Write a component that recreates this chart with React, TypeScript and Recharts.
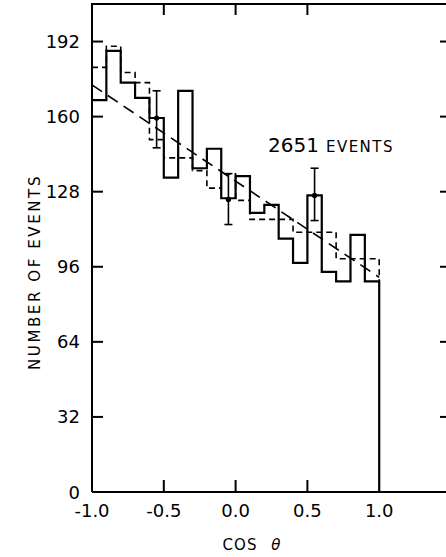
import { ComposedChart, Line, XAxis, YAxis } from "recharts";

// bin starts (width 0.1) from -1.0 to 0.9
const binStarts = [-1.0, -0.9, -0.8, -0.7, -0.6, -0.5, -0.4, -0.3, -0.2, -0.1, 0.0, 0.1, 0.2, 0.3, 0.4, 0.5, 0.6, 0.7, 0.8, 0.9];
const binEnd = 1.0;
// solid histogram (data)
const observed = [167, 188, 174.5, 168, 159.4, 134, 171, 138, 146.3, 125.2, 134.6, 119, 122.4, 108, 97.7, 126.4, 93.8, 89.8, 109.6, 89.8];
// dashed histogram (expected)
const expected = [181, 190, 178.8, 174.5, 150.2, 142.4, 142.4, 137, 129.5, 135.6, 124.3, 116.2, 116.2, 116.2, 110.7, 110.7, 110.7, 99.4, 99.4, 99.4];
// dashed straight line
const fitX = [-1.0, 1.0];
const fitY = [173.5, 91.5];
// points with error bars
const errX = [-0.55, -0.05, 0.55];
const errY = [159.4, 124.7, 126.4];
const errLow = [146.7, 114, 115.7];
const errHigh = [171, 135.7, 138];

const xDomain = [-1, 1.5];
const yDomain = [0, 208];
const xTicks = [-1.0, -0.5, 0.0, 0.5, 1.0];
const xInnerTicks = [-0.5, 0.0, 0.5];
const yTicks = [0, 32, 64, 96, 128, 160, 192];
const yInnerTicks = [32, 64, 96, 128, 160, 192];

const lastObs = observed[observed.length - 1];

const obsData = [
  ...binStarts.map((x, i) => ({ x, y: observed[i] })),
  { x: binEnd, y: lastObs },
  { x: binEnd, y: 0 },
];
const expData = [
  ...binStarts.map((x, i) => ({ x, y: expected[i] })),
  { x: binEnd, y: expected[expected.length - 1] },
  { x: binEnd, y: lastObs },
];
const fitData = fitX.map((x, i) => ({ x, y: fitY[i] }));
const pointData = errX.map((x, i) => ({ x, y: errY[i] }));
const barData = errX.map((x, i) => [
  { x, y: errLow[i] },
  { x, y: errHigh[i] },
]);

// layout
const W = 470;
const H = 557;
const M = { top: 4, right: 19 };
const Y_W = 92;
const X_H = 65;
const PLOT_L = Y_W;
const PLOT_T = M.top;
const PLOT_W = W - Y_W - M.right;
const PLOT_H = H - M.top - X_H;
const sx = (v: number) => PLOT_L + ((v - xDomain[0]) / (xDomain[1] - xDomain[0])) * PLOT_W;
const sy = (v: number) => PLOT_T + PLOT_H - ((v - yDomain[0]) / (yDomain[1] - yDomain[0])) * PLOT_H;
const TICK = 11;

const FONT = "DejaVu Sans";

const BottomTick = (p: any) => (
  <text x={p.x} y={p.y + 14} textAnchor="middle" fontSize={18} fontFamily={FONT} fill="#000">
    {Number(p.payload.value).toFixed(1)}
  </text>
);

const LeftTick = (p: any) => (
  <text x={p.x} y={p.y + 6.5} textAnchor="end" fontSize={18} fontFamily={FONT} fill="#000">
    {p.payload.value}
  </text>
);

const Cap = (p: any) => (
  <line key={`${p.cx}-${p.cy}`} x1={p.cx - 4} x2={p.cx + 4} y1={p.cy} y2={p.cy} stroke="#000" strokeWidth={1.6} />
);
const Dot = (p: any) => <circle key={`${p.cx}-${p.cy}`} cx={p.cx} cy={p.cy} r={2.6} fill="#000" />;

// frame top edge and inward tick marks on all four sides
const Frame = () => (
  <svg width={W} height={H} style={{ position: "absolute", left: 0, top: 0, pointerEvents: "none" }}>
    <g stroke="#000" strokeWidth={2}>
      <line x1={PLOT_L - 1} x2={W} y1={PLOT_T} y2={PLOT_T} />
      {xInnerTicks.map((v) => (
        <g key={`x${v}`}>
          <line x1={sx(v)} x2={sx(v)} y1={PLOT_T + PLOT_H} y2={PLOT_T + PLOT_H - 12} />
          <line x1={sx(v)} x2={sx(v)} y1={PLOT_T} y2={PLOT_T + TICK} />
        </g>
      ))}
      {yInnerTicks.map((v) => (
        <g key={`y${v}`}>
          <line x1={PLOT_L} x2={PLOT_L + TICK} y1={sy(v)} y2={sy(v)} />
          <line x1={PLOT_L + PLOT_W} x2={PLOT_L + PLOT_W - TICK} y1={sy(v)} y2={sy(v)} />
        </g>
      ))}
    </g>
  </svg>
);

export default function App() {
  return (
    <div style={{ position: "fixed", left: 0, top: 0, width: 446, height: 557, overflow: "hidden", background: "#fff" }}>
      <ComposedChart width={W} height={H} margin={{ top: M.top, right: M.right, bottom: 0, left: 0 }}>
        <XAxis
          xAxisId="x"
          dataKey="x"
          type="number"
          domain={xDomain}
          ticks={xTicks}
          height={X_H}
          tick={BottomTick}
          stroke="#000"
          strokeWidth={2}
          tickLine={false}
          tickSize={0}
          tickMargin={11}
        />
        <YAxis
          yAxisId="y"
          type="number"
          domain={yDomain}
          ticks={yTicks}
          width={Y_W}
          tick={LeftTick}
          stroke="#000"
          strokeWidth={2}
          tickLine={false}
          tickSize={0}
          tickMargin={12}
        />
        <Line
          xAxisId="x"
          yAxisId="y"
          data={fitData}
          dataKey="y"
          type="linear"
          stroke="#000"
          strokeWidth={1.6}
          strokeDasharray="12 7"
          dot={false}
          activeDot={false}
          isAnimationActive={false}
        />
        <Line
          xAxisId="x"
          yAxisId="y"
          data={expData}
          dataKey="y"
          type="stepAfter"
          stroke="#000"
          strokeWidth={1.6}
          strokeDasharray="6 4"
          dot={false}
          activeDot={false}
          isAnimationActive={false}
        />
        <Line
          xAxisId="x"
          yAxisId="y"
          data={obsData}
          dataKey="y"
          type="stepAfter"
          stroke="#000"
          strokeWidth={2.2}
          dot={false}
          activeDot={false}
          isAnimationActive={false}
        />
        {barData.map((d, i) => (
          <Line
            key={i}
            xAxisId="x"
            yAxisId="y"
            data={d}
            dataKey="y"
            type="linear"
            stroke="#000"
            strokeWidth={1.6}
            dot={Cap}
            activeDot={false}
            isAnimationActive={false}
          />
        ))}
        <Line
          xAxisId="x"
          yAxisId="y"
          data={pointData}
          dataKey="y"
          stroke="none"
          dot={Dot}
          activeDot={false}
          isAnimationActive={false}
        />
      </ComposedChart>

      <Frame />

      <div style={{ position: "absolute", left: 268, top: 133, fontFamily: FONT, color: "#000", whiteSpace: "nowrap" }}>
        <span style={{ fontSize: 20 }}>2651</span>
        <span style={{ fontSize: 15, letterSpacing: 1.5, marginLeft: 7 }}>EVENTS</span>
      </div>
      <div
        style={{
          position: "absolute",
          left: 35,
          top: 272,
          transform: "translate(-50%, -50%) rotate(-90deg)",
          fontFamily: FONT,
          fontSize: 15,
          letterSpacing: 2.6,
          whiteSpace: "nowrap",
          color: "#000",
        }}
      >
        NUMBER OF EVENTS
      </div>
      <div
        style={{
          position: "absolute",
          left: 252,
          top: 545,
          transform: "translate(-50%, -50%)",
          fontFamily: FONT,
          fontSize: 15,
          letterSpacing: 1,
          wordSpacing: 8,
          whiteSpace: "nowrap",
          color: "#000",
        }}
      >
        COS <i>θ</i>
      </div>
    </div>
  );
}
